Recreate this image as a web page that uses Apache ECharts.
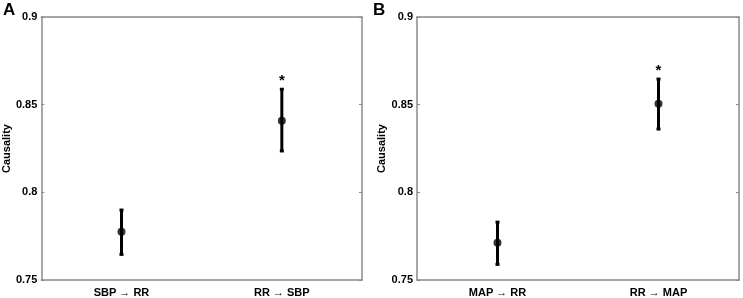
<!DOCTYPE html>
<html>
<head>
<meta charset="utf-8">
<script src="https://cdn.jsdelivr.net/npm/echarts@6/dist/echarts.min.js"></script>
<style>html,body{margin:0;padding:0;background:#fff}#c{width:743px;height:298px}</style>
</head>
<body>
<div id="c"></div>
<script>
// Panel A data
const categoriesA = ['SBP \u2192 RR', 'RR \u2192 SBP'];
const meanA = [0.7775, 0.8408];
const lowA = [0.7646, 0.8236];
const highA = [0.7899, 0.8588];
const sigA = [0, 1];
// Panel B data
const categoriesB = ['MAP \u2192 RR', 'RR \u2192 MAP'];
const meanB = [0.7713, 0.8505];
const lowB = [0.7589, 0.8361];
const highB = [0.7830, 0.8646];
const sigB = [0, 1];
const yMin = 0.75, yMax = 0.9, yStep = 0.05;
const panelLetters = ['A', 'B'];

const FONT = 'Liberation Sans, Arial, sans-serif';
const AX = '#8a8a8a';

function errData(low, high, sig) {
  return low.map((l, i) => [i, l, high[i], sig[i]]);
}
function renderErr(params, api) {
  const x = api.coord([api.value(0), api.value(1)])[0];
  const yl = api.coord([api.value(0), api.value(1)])[1];
  const yh = api.coord([api.value(0), api.value(2)])[1];
  const children = [
    {type: 'line', shape: {x1: x, y1: yl, x2: x, y2: yh}, style: {stroke: '#000', lineWidth: 3}},
    {type: 'rect', shape: {x: x - 2, y: yh - 1.5, width: 4, height: 3}, style: {fill: '#000'}},
    {type: 'rect', shape: {x: x - 2, y: yl - 1.5, width: 4, height: 3}, style: {fill: '#000'}}
  ];
  if (api.value(3)) {
    children.push({type: 'text', style: {text: '*', x: x, y: yh - 1, align: 'center', verticalAlign: 'bottom',
      font: 'bold 15px ' + FONT, fill: '#000'}});
  }
  return {type: 'group', children: children};
}

const grids = [
  {left: 41, right: 381, top: 17, bottom: 18},
  {left: 417, right: 4, top: 17, bottom: 18}
];
const cats = [categoriesA, categoriesB];
const xAxis = [], yAxis = [], series = [];
[0, 1].forEach(g => {
  xAxis.push({type: 'category', gridIndex: g, data: cats[g], position: 'bottom',
    axisLine: {lineStyle: {color: AX, width: 1.5}},
    axisTick: {inside: true, length: 3, alignWithLabel: true, lineStyle: {color: AX}},
    axisLabel: {color: '#000', fontWeight: 'bold', fontSize: 11, fontFamily: FONT, margin: 7},
    splitLine: {show: false}});
  xAxis.push({type: 'category', gridIndex: g, data: cats[g], position: 'top',
    axisLine: {lineStyle: {color: AX, width: 1.5}}, axisTick: {show: false}, axisLabel: {show: false}});
  yAxis.push({type: 'value', gridIndex: g, min: yMin, max: yMax, interval: yStep, position: 'left',
    name: 'Causality', nameLocation: 'middle', nameGap: g === 0 ? 28 : 30,
    nameTextStyle: {color: '#000', fontWeight: 'bold', fontSize: 11, fontFamily: FONT},
    axisLine: {show: true, lineStyle: {color: AX, width: 1.5}},
    axisTick: {show: true, inside: true, length: 3, lineStyle: {color: AX}},
    axisLabel: {color: '#000', fontWeight: 'bold', fontSize: 11, fontFamily: FONT, margin: 4},
    splitLine: {show: false}});
  yAxis.push({type: 'value', gridIndex: g, min: yMin, max: yMax, interval: yStep, position: 'right',
    axisLine: {show: true, lineStyle: {color: AX, width: 1.5}},
    axisTick: {show: true, inside: true, length: 3, lineStyle: {color: AX}},
    axisLabel: {show: false}, splitLine: {show: false}});
});
const lows = [lowA, lowB], highs = [highA, highB], sigs = [sigA, sigB], means = [meanA, meanB];
[0, 1].forEach(g => {
  series.push({type: 'custom', xAxisIndex: g * 2, yAxisIndex: g * 2, renderItem: renderErr,
    data: errData(lows[g], highs[g], sigs[g]), silent: true, z: 2});
  series.push({type: 'scatter', xAxisIndex: g * 2, yAxisIndex: g * 2, data: means[g],
    symbol: 'circle', symbolSize: 8, itemStyle: {color: '#000'}, z: 3, silent: true});
});

const chart = echarts.init(document.getElementById('c'), null, {renderer: 'canvas'});
chart.setOption({
  animation: false,
  backgroundColor: '#fff',
  grid: grids,
  xAxis: xAxis,
  yAxis: yAxis,
  series: series,
  graphic: [
    {type: 'text', left: 3, top: 2, style: {text: panelLetters[0], font: 'bold 17px ' + FONT, fill: '#000'}},
    {type: 'text', left: 373, top: 2, style: {text: panelLetters[1], font: 'bold 17px ' + FONT, fill: '#000'}}
  ]
});
</script>
</body>
</html>
